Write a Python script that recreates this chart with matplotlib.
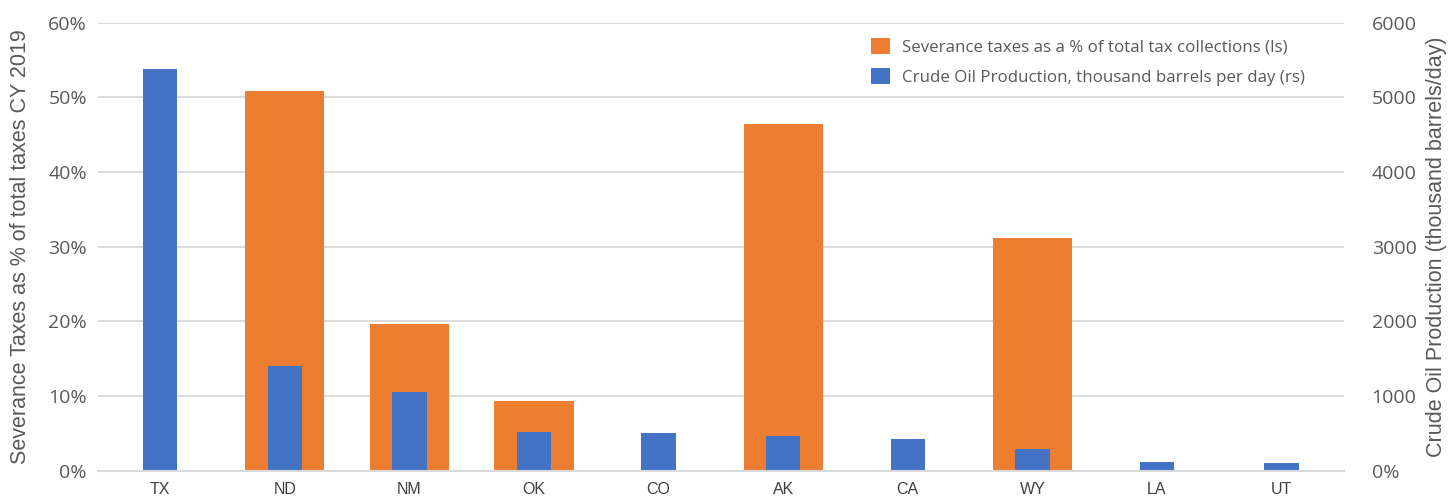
import matplotlib.pyplot as plt
import numpy as np
from matplotlib.ticker import FuncFormatter

# States ranked by crude oil output
states = ["TX", "ND", "NM", "OK", "CO", "AK", "CA", "WY", "LA", "UT"]

# Severance taxes as a share of total tax collections, CY 2019 (left scale)
severance_share = [0.0, 0.509, 0.196, 0.093, 0.0, 0.464, 0.0, 0.312, 0.0, 0.0]

# Crude oil production, thousand barrels per day (right scale)
oil_production = [5380, 1400, 1055, 512, 510, 463, 420, 290, 120, 99]

ORANGE = "#ED7D31"
BLUE = "#4472C4"
GRID = "#D9D9D9"
TEXT = "#595959"
TICK_FONT = ["Open Sans", "DejaVu Sans"]

plt.rcParams["font.family"] = ["Liberation Sans", "DejaVu Sans"]

fig = plt.figure(figsize=(14.52, 4.98), dpi=100)
ax = fig.add_axes([0.0675, 0.0548, 0.858, 0.8996])
ax2 = ax.twinx()

x = np.arange(len(states))
ax.bar(x, severance_share, width=0.635, color=ORANGE, zorder=2,
       label="Severance taxes as a % of total tax collections (ls)")
ax2.bar(x, oil_production, width=0.276, color=BLUE, zorder=2,
        label="Crude Oil Production, thousand barrels per day (rs)")

ax.set_xlim(-0.5, len(states) - 0.5)
ax.set_ylim(0, 0.6)
ax2.set_ylim(0, 6000)
ax.set_yticks(np.arange(0, 0.61, 0.1))
ax2.set_yticks(np.arange(0, 6001, 1000))
ax.yaxis.set_major_formatter(FuncFormatter(lambda v, _: f"{v * 100:.0f}%"))
ax2.yaxis.set_major_formatter(
    FuncFormatter(lambda v, _: "0%" if v == 0 else f"{v:.0f}"))

ax.set_xticks(x)
ax.set_xticklabels(states, fontsize=11.5, color="#404040",
                   family=["Liberation Sans Narrow", "Liberation Sans"])

for a in (ax, ax2):
    for side in ("top", "left", "right"):
        a.spines[side].set_visible(False)
    a.spines["bottom"].set_color(GRID)
    a.spines["bottom"].set_linewidth(1.5)
    a.tick_params(length=0)
ax.tick_params(axis="y", labelsize=14, labelcolor=TEXT, pad=8)
ax2.tick_params(axis="y", labelsize=14, labelcolor=TEXT, pad=20)
ax.tick_params(axis="x", pad=8)
for lbl in ax.get_yticklabels() + ax2.get_yticklabels():
    lbl.set_family(TICK_FONT)

ax.grid(axis="y", color=GRID, linewidth=1.3, zorder=0)
ax.set_axisbelow(True)

ax.set_ylabel("Severance Taxes as % of total taxes CY 2019",
              fontsize=15.5, color=TEXT)
ax.yaxis.set_label_coords(-0.054, 0.5)
ax2.set_ylabel("Crude Oil Production (thousand barrels/day)",
               fontsize=15.5, color=TEXT, rotation=90)
ax2.yaxis.set_label_coords(1.066, 0.5)

h1, l1 = ax.get_legend_handles_labels()
h2, l2 = ax2.get_legend_handles_labels()
ax2.legend(h1 + h2, l1 + l2, loc="upper right", bbox_to_anchor=(0.981, 1.0),
           frameon=False, labelcolor=TEXT,
           prop={"family": TICK_FONT, "size": 12.2},
           handlelength=1.1, handleheight=1.1, handletextpad=0.7,
           labelspacing=0.7)

fig.savefig("out.png", dpi=100)
